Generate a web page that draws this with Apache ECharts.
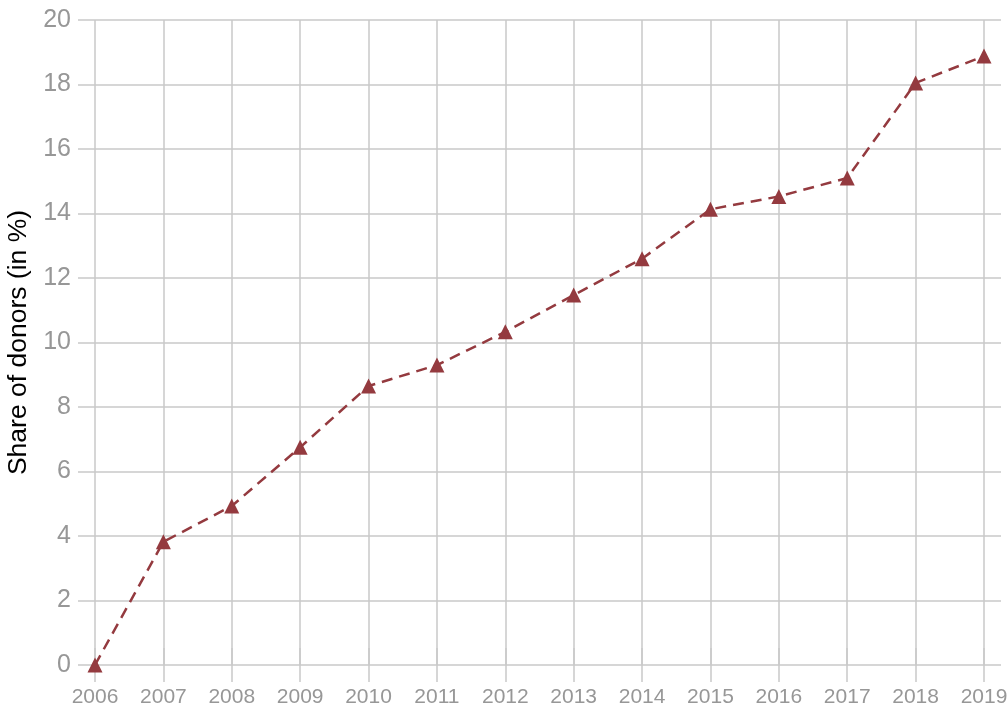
<!DOCTYPE html>
<html>
<head>
<meta charset="utf-8">
<script src="https://cdn.jsdelivr.net/npm/echarts@6/dist/echarts.min.js"></script>
<style>
  html, body { margin: 0; padding: 0; background: #fff; }
  #chart { width: 1008px; height: 709px; }
</style>
</head>
<body>
<div id="chart"></div>
<script>
// data
var years = [2006, 2007, 2008, 2009, 2010, 2011, 2012, 2013, 2014, 2015, 2016, 2017, 2018, 2019];
var share = [0.0, 3.82, 4.93, 6.75, 8.65, 9.3, 10.33, 11.47, 12.6, 14.13, 14.53, 15.1, 18.05, 18.88];
var yTicks = [0, 20, 2];  // min, max, step

var gridColor = '#c9c9c9';
var labelColor = '#979797';
var lineColor = '#943a3f';
var font = '"Liberation Sans", Arial, Helvetica, sans-serif';

var chart = echarts.init(document.getElementById('chart'));

var points = years.map(function (y, i) { return [y, share[i]]; });

var option = {
    animation: false,
    grid: { left: 95, right: 24, top: 20, bottom: 44, outerBoundsMode: 'none', containLabel: false },
    xAxis: [
        {
            type: 'value',
            min: years[0], max: years[years.length - 1], interval: 1,
            axisLine: { show: false },
            axisTick: { show: true, length: 17, lineStyle: { color: gridColor, width: 1.5 } },
            axisLabel: { color: labelColor, fontSize: 21, fontFamily: font, margin: 22,
                formatter: function (v) { return String(v); } },
            splitLine: { show: true, lineStyle: { color: gridColor, width: 1.5 } }
        },
        {
            // only draws the short grid stubs above the top line
            type: 'value', position: 'top',
            min: years[0], max: years[years.length - 1], interval: 1,
            axisLine: { show: false },
            axisTick: { show: true, length: 17, lineStyle: { color: gridColor, width: 1.5 } },
            axisLabel: { show: false },
            splitLine: { show: false }
        }
    ],
    yAxis: [
        {
            type: 'value',
            min: yTicks[0], max: yTicks[1], interval: yTicks[2],
            name: 'Share of donors (in %)',
            nameLocation: 'middle',
            nameGap: 63,
            nameTextStyle: { color: '#000', fontSize: 26.5, fontFamily: font },
            axisLine: { show: false },
            axisTick: { show: true, length: 17, lineStyle: { color: gridColor, width: 1.5 } },
            axisLabel: { color: labelColor, fontSize: 25, fontFamily: font, margin: 24 },
            splitLine: { show: true, lineStyle: { color: gridColor, width: 1.5 } }
        },
        {
            type: 'value', position: 'right',
            min: yTicks[0], max: yTicks[1], interval: yTicks[2],
            axisLine: { show: false },
            axisTick: { show: true, length: 17, lineStyle: { color: gridColor, width: 1.5 } },
            axisLabel: { show: false },
            splitLine: { show: false }
        }
    ],
    series: [{
        type: 'line',
        data: points,
        symbol: 'triangle',
        symbolSize: 15,
        itemStyle: { color: lineColor },
        lineStyle: { color: lineColor, width: 2.5, type: [11, 7] },
        z: 5
    }]
};

chart.setOption(option);
</script>
</body>
</html>
